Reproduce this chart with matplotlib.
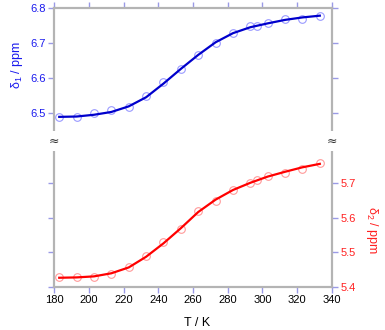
import matplotlib
matplotlib.use("Agg")
import matplotlib.pyplot as plt

plt.rcParams['font.family'] = ['Liberation Sans', 'DejaVu Sans']
plt.rcParams['mathtext.fontset'] = 'custom'
plt.rcParams['mathtext.rm'] = 'Liberation Sans'
plt.rcParams['mathtext.it'] = 'Liberation Sans:italic'
plt.rcParams['mathtext.default'] = 'regular'

# measured points
T = [183, 193, 203, 213, 223, 233, 243, 253, 263, 273, 283, 293, 297, 303, 313, 323, 333]
delta1 = [6.489, 6.489, 6.500, 6.509, 6.518, 6.549, 6.589, 6.628, 6.668,
          6.700, 6.729, 6.749, 6.749, 6.759, 6.769, 6.769, 6.779]
delta2 = [5.427, 5.427, 5.427, 5.437, 5.458, 5.489, 5.530, 5.569, 5.620,
          5.650, 5.681, 5.701, 5.709, 5.722, 5.731, 5.741, 5.760]

# fitted curves
T_fit = [183, 193, 203, 213, 223, 233, 243, 253, 263, 273, 283, 293, 303, 313, 323, 333]
fit1 = [6.490, 6.491, 6.496, 6.504, 6.520, 6.546, 6.585, 6.627, 6.667,
        6.703, 6.729, 6.746, 6.757, 6.767, 6.774, 6.779]
fit2 = [5.426, 5.427, 5.430, 5.439, 5.456, 5.487, 5.526, 5.570, 5.617,
        5.653, 5.681, 5.702, 5.720, 5.734, 5.747, 5.757]

x_ticks = [180, 200, 220, 240, 260, 280, 300, 320, 340]
left_ticks = [6.5, 6.6, 6.7, 6.8]
right_ticks = [5.4, 5.5, 5.6, 5.7]

BLUE = '#0000cc'
RED = '#ff0000'
SPINE = '#b4b4b4'
TICK = '#9a9ae6'

fig = plt.figure(figsize=(3.85, 3.3), dpi=100)
ax = fig.add_axes([0.1403, 0.1312, 0.722, 0.8436])
ax2 = ax.twinx()

ax.plot(T, delta1, 'o', mfc='none', mec='#9a9aff', ms=5.5, mew=0.8)
ax.plot(T_fit, fit1, '-', color=BLUE, lw=1.6)
ax2.plot(T, delta2, 'o', mfc='none', mec='#ff9a9a', ms=5.5, mew=0.8)
ax2.plot(T_fit, fit2, '-', color=RED, lw=1.6)

ax.set_xlim(180, 340)
ax.set_ylim(6.005, 6.8)
ax2.set_ylim(5.4, 6.209)

ax.set_xticks(x_ticks)
ax.set_yticks(left_ticks)
ax2.set_yticks(right_ticks)

ax.tick_params(axis='x', direction='out', length=4, width=1, color=TICK,
               top=True, labelsize=8, pad=2)
ax.tick_params(axis='y', direction='out', length=4, width=1, color=TICK,
               right=True, labelcolor='#1a1aee', labelsize=8, pad=2)
ax2.tick_params(axis='y', direction='out', length=4, width=1, color=TICK,
                left=True, labelleft=False, labelcolor='#ff2020',
                labelsize=8, pad=2)

for a in (ax, ax2):
    for s in a.spines.values():
        s.set_color(SPINE)
        s.set_linewidth(1.5)

# axis break marks
for xf in (0.1403, 0.8623):
    fig.text(xf, 1 - 141 / 330, '≈', ha='center', va='center',
             fontsize=9, family='DejaVu Sans', color='#333333',
             bbox=dict(boxstyle='square,pad=0.25', fc='white', ec='none'))

fig.text(17 / 385, 1 - 65 / 330, 'δ$_1$ / ppm', rotation=90, color='#1a1aee',
         fontsize=9, ha='center', va='center')
fig.text(372 / 385, 1 - 230 / 330, 'δ$_2$ / ppm', rotation=270, color='#ff2020',
         fontsize=9, ha='center', va='center')
fig.text(197 / 385, 1 - 323 / 330, 'T / K', fontsize=9, ha='center', va='center')

fig.savefig('out.png', dpi=100)
